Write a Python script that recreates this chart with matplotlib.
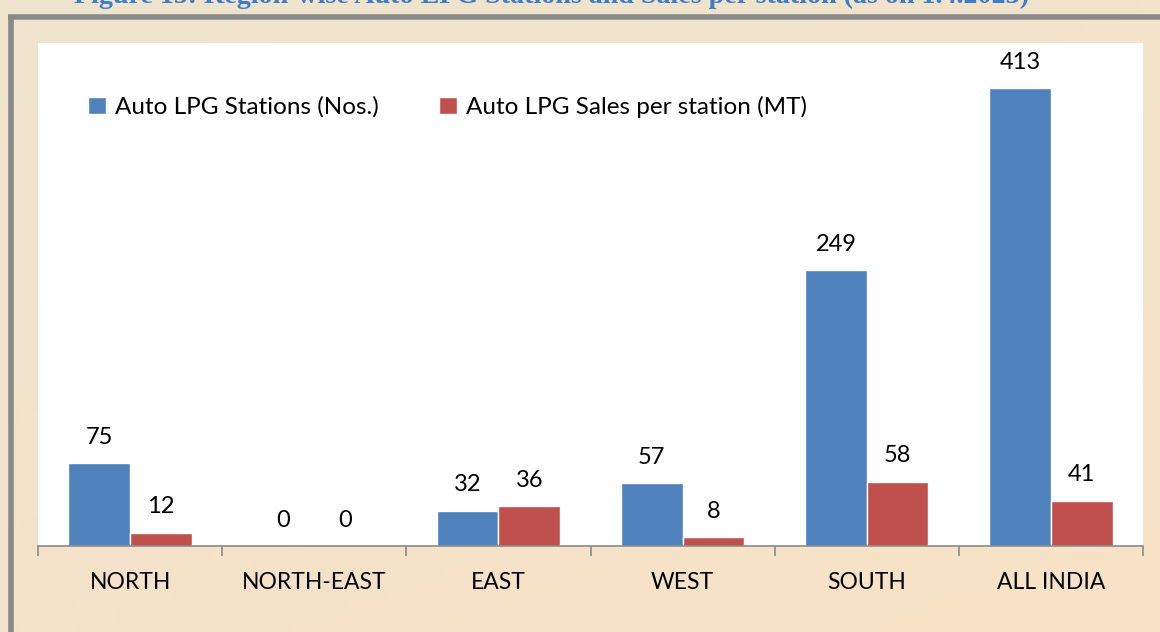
import numpy as np
import matplotlib.pyplot as plt

regions = ['NORTH', 'NORTH-EAST', 'EAST', 'WEST', 'SOUTH', 'ALL INDIA']
stations = [75, 0, 32, 57, 249, 413]
sales = [12, 0, 36, 8, 58, 41]
labels = ['Auto LPG Stations (Nos.)', 'Auto LPG Sales per station (MT)']
title = 'Figure 15: Region-wise Auto LPG Stations and Sales per station (as on 1.4.2023)'

blue = '#4F81BD'
red = '#C0504D'
plt.rcParams['font.family'] = ['Lato', 'DejaVu Sans']

W, H = 1160, 632
fig = plt.figure(figsize=(W/100, H/100), dpi=100)

# parchment background
bg = fig.add_axes([0, 0, 1, 1], zorder=-10)
gy, gx = np.mgrid[0:1:60j, 0:1:60j]
c1 = np.array([0xEE, 0xE4, 0xCE])/255
c2 = np.array([0xF8, 0xE2, 0xC6])/255
t = (0.6*gy + 0.4*gx)[..., None]
bg.imshow(c1*(1-t) + c2*t, extent=[0, 1, 0, 1], aspect='auto', origin='upper')
bg.plot([8/W, 1], [1-17/H, 1-17/H], color='#8a8a8a', lw=4, solid_capstyle='butt')
bg.plot([11/W, 11/W], [0, 1-17/H], color='#8a8a8a', lw=4, solid_capstyle='butt')
bg.set_xlim(0, 1)
bg.set_ylim(0, 1)
bg.axis('off')

# title is clipped at the top edge like in the source
fig.text(552/W, 1.005, title, ha='center', va='center', fontsize=20.2,
         fontweight='bold', family='Liberation Serif', color='#3D7CC9')

ax = fig.add_axes([38/W, 1-546/H, (1143-38)/W, (546-43)/H])
ax.set_facecolor('white')
x = np.arange(len(regions))
w = 0.335
b1 = ax.bar(x - w/2, stations, w, color=blue, edgecolor='white', linewidth=1, label=labels[0])
b2 = ax.bar(x + w/2, sales, w, color=red, edgecolor='white', linewidth=1, label=labels[1])
for bars in (b1, b2):
    ax.bar_label(bars, padding=11, fontsize=17, color='black')

ax.set_xlim(-0.5, len(regions) - 0.5)
ax.set_ylim(0, 454)
ax.set_yticks([])
for s in ['top', 'right', 'left']:
    ax.spines[s].set_visible(False)
ax.spines['bottom'].set_color('#8a8a8a')
ax.spines['bottom'].set_linewidth(1.2)
ax.set_xticks(np.arange(len(regions) + 1) - 0.5, minor=True)
ax.set_xticks(x)
ax.set_xticklabels(regions, fontsize=16.5)
ax.tick_params(axis='x', which='major', length=0, pad=19)
ax.tick_params(axis='x', which='minor', length=7, color='#8a8a8a', width=1.2)

ax.legend(loc='center left', bbox_to_anchor=((88-38)/1105, (546-107)/503), ncol=2,
          frameon=False, borderaxespad=0, borderpad=0, fontsize=17.5,
          handlelength=0.75, handleheight=0.75, handletextpad=0.35, columnspacing=2.5)

fig.savefig('out.png', dpi=100)
